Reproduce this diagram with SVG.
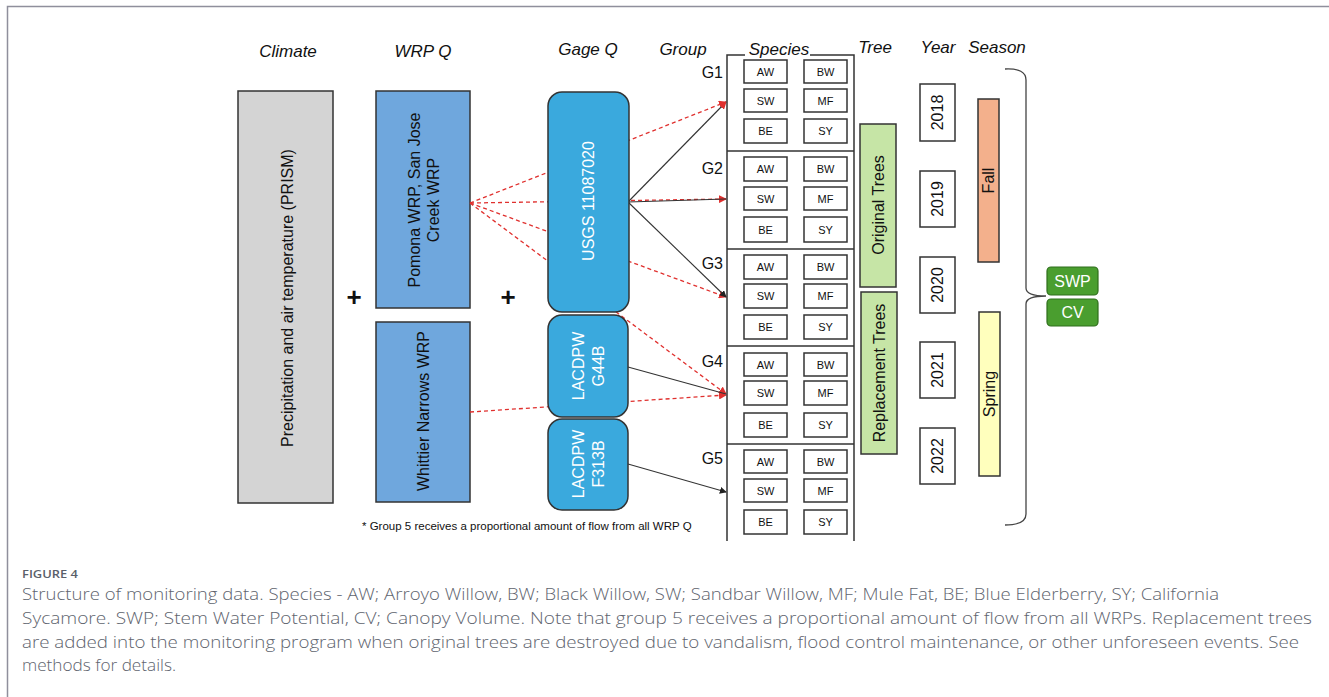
<svg xmlns="http://www.w3.org/2000/svg" width="1329" height="697" viewBox="0 0 1329 697">
<style>
.hdr{font-family:"Liberation Sans",Arial,sans-serif;font-size:17px;font-style:italic;fill:#111;text-anchor:middle}
.t{font-family:"Liberation Sans",Arial,sans-serif;font-size:16px;fill:#111;text-anchor:middle;dominant-baseline:central}
.tw{font-family:"Liberation Sans",Arial,sans-serif;font-size:16px;fill:#fff;text-anchor:middle;dominant-baseline:central}
.sp{font-family:"Liberation Sans",Arial,sans-serif;font-size:11px;fill:#111;text-anchor:middle;dominant-baseline:central}
.box{stroke:#333;stroke-width:1.5}
.spb{fill:#fff;stroke:#333;stroke-width:1.5}
.red{fill:none;stroke:#e0302e;stroke-width:1.3;stroke-dasharray:4 3}
.blk{fill:none;stroke:#333;stroke-width:1.1}
.frame{fill:none;stroke:#333;stroke-width:1.5}
.cap{font-family:"Open Sans","Liberation Sans",sans-serif;font-size:15.5px;font-weight:300;fill:#60646e}
</style>
<defs>
<marker id="ar" viewBox="0 0 8 8" refX="7" refY="4" markerWidth="8" markerHeight="8" markerUnits="userSpaceOnUse" orient="auto"><path d="M0,0 L8,4 L0,8 z" fill="#e0302e"/></marker>
<marker id="ab" viewBox="0 0 8 8" refX="7" refY="4" markerWidth="7" markerHeight="7" markerUnits="userSpaceOnUse" orient="auto"><path d="M0,0 L8,4 L0,8 z" fill="#222"/></marker>
</defs>
<rect width="1329" height="697" fill="#fff"/>
<path d="M7.5,697 V6.5 H1329" fill="none" stroke="#8f8f9c" stroke-width="1.5"/>

<g id="headers">
<text class="hdr" x="288" y="57">Climate</text>
<text class="hdr" x="423" y="57">WRP Q</text>
<text class="hdr" x="588" y="55">Gage Q</text>
<text class="hdr" x="683" y="55">Group</text>
<text class="hdr" x="779" y="55">Species</text>
<text class="hdr" x="875" y="53">Tree</text>
<text class="hdr" x="938" y="53">Year</text>
<text class="hdr" x="997" y="53">Season</text>
</g>

<g id="climate">
<rect class="box" x="238" y="91" width="95" height="412" fill="#d4d4d4"/>
<text class="t" transform="translate(287,298) rotate(-90)">Precipitation and air temperature (PRISM)</text>
</g>
<g id="plus1"><text x="354" y="306" font-family="Liberation Sans,Arial,sans-serif" font-size="26" font-weight="bold" text-anchor="middle" fill="#111">+</text></g>
<g id="plus2"><text x="508" y="306" font-family="Liberation Sans,Arial,sans-serif" font-size="26" font-weight="bold" text-anchor="middle" fill="#111">+</text></g>

<g id="wrp1">
<rect class="box" x="376" y="91" width="94" height="217" fill="#6fa7dd"/>
<text class="t" transform="translate(414,200) rotate(-90)">Pomona WRP, San Jose</text>
<text class="t" transform="translate(433,200) rotate(-90)">Creek WRP</text>
</g>
<g id="wrp2">
<rect class="box" x="376" y="322" width="94" height="180" fill="#6fa7dd"/>
<text class="t" transform="translate(423,411) rotate(-90)">Whittier Narrows WRP</text>
</g>

<g id="connectors">
<line class="red" x1="470" y1="203" x2="726" y2="102" marker-end="url(#ar)"/>
<line class="red" x1="470" y1="203" x2="726" y2="199" marker-end="url(#ar)"/>
<line class="red" x1="470" y1="203" x2="726" y2="297" marker-end="url(#ar)"/>
<line class="red" x1="470" y1="203" x2="726" y2="394" marker-end="url(#ar)"/>
<line class="red" x1="470" y1="412" x2="726" y2="395" marker-end="url(#ar)"/>
<line class="blk" x1="628" y1="202" x2="726" y2="102" marker-end="url(#ar)"/>
<line class="blk" x1="628" y1="202" x2="726" y2="199"/>
<line class="blk" x1="628" y1="202" x2="726" y2="297" marker-end="url(#ab)"/>
<line class="blk" x1="628" y1="367" x2="726" y2="394"/>
<line class="blk" x1="628" y1="464" x2="726" y2="492" marker-end="url(#ab)"/>
</g>

<g id="usgs">
<rect class="box" x="548" y="92" width="81" height="220" rx="14" fill="#3aa9dd"/>
<text class="tw" transform="translate(588,201) rotate(-90)">USGS 11087020</text>
</g>
<g id="g44b">
<rect class="box" x="548" y="315" width="80" height="102" rx="14" fill="#3aa9dd"/>
<text class="tw" transform="translate(578,366) rotate(-90)">LACDPW</text>
<text class="tw" transform="translate(598,366) rotate(-90)">G44B</text>
</g>
<g id="f313b">
<rect class="box" x="548" y="419" width="80" height="91" rx="14" fill="#3aa9dd"/>
<text class="tw" transform="translate(578,464) rotate(-90)">LACDPW</text>
<text class="tw" transform="translate(598,464) rotate(-90)">F313B</text>
</g>

<g id="footnote"><text x="362" y="530" font-family="Liberation Sans,Arial,sans-serif" font-size="11.5" fill="#111">* Group 5 receives a proportional amount of flow from all WRP Q</text></g>

<g id="species-frame">
<path class="frame" d="M727,541 V55 H745 M810,55 H854 V541"/>
<line class="frame" x1="727" y1="151" x2="854" y2="151"/>
<line class="frame" x1="727" y1="249" x2="854" y2="249"/>
<line class="frame" x1="727" y1="346" x2="854" y2="346"/>
<line class="frame" x1="727" y1="444" x2="854" y2="444"/>
</g>

<g id="groups" font-family="Liberation Sans,Arial,sans-serif" font-size="16" fill="#111" text-anchor="end">
<text x="723" y="78">G1</text>
<text x="723" y="174">G2</text>
<text x="723" y="269">G3</text>
<text x="723" y="367">G4</text>
<text x="723" y="464">G5</text>
</g>

<g id="G1-species">
<rect class="spb" x="744" y="60" width="43" height="23"/><text class="sp" x="765.5" y="72">AW</text>
<rect class="spb" x="804" y="60" width="43" height="23"/><text class="sp" x="825.5" y="72">BW</text>
<rect class="spb" x="744" y="89" width="43" height="23"/><text class="sp" x="765.5" y="101">SW</text>
<rect class="spb" x="804" y="89" width="43" height="23"/><text class="sp" x="825.5" y="101">MF</text>
<rect class="spb" x="744" y="119" width="43" height="24"/><text class="sp" x="765.5" y="131">BE</text>
<rect class="spb" x="804" y="119" width="43" height="24"/><text class="sp" x="825.5" y="131">SY</text>
</g>
<g id="G2-species">
<rect class="spb" x="744" y="157" width="43" height="24"/><text class="sp" x="765.5" y="169">AW</text>
<rect class="spb" x="804" y="157" width="43" height="24"/><text class="sp" x="825.5" y="169">BW</text>
<rect class="spb" x="744" y="187" width="43" height="23"/><text class="sp" x="765.5" y="198.5">SW</text>
<rect class="spb" x="804" y="187" width="43" height="23"/><text class="sp" x="825.5" y="198.5">MF</text>
<rect class="spb" x="744" y="217" width="43" height="25"/><text class="sp" x="765.5" y="229.5">BE</text>
<rect class="spb" x="804" y="217" width="43" height="25"/><text class="sp" x="825.5" y="229.5">SY</text>
</g>
<g id="G3-species">
<rect class="spb" x="744" y="255" width="43" height="24"/><text class="sp" x="765.5" y="267">AW</text>
<rect class="spb" x="804" y="255" width="43" height="24"/><text class="sp" x="825.5" y="267">BW</text>
<rect class="spb" x="744" y="284" width="43" height="24"/><text class="sp" x="765.5" y="296">SW</text>
<rect class="spb" x="804" y="284" width="43" height="24"/><text class="sp" x="825.5" y="296">MF</text>
<rect class="spb" x="744" y="315" width="43" height="24"/><text class="sp" x="765.5" y="327">BE</text>
<rect class="spb" x="804" y="315" width="43" height="24"/><text class="sp" x="825.5" y="327">SY</text>
</g>
<g id="G4-species">
<rect class="spb" x="744" y="353" width="43" height="23"/><text class="sp" x="765.5" y="364.5">AW</text>
<rect class="spb" x="804" y="353" width="43" height="23"/><text class="sp" x="825.5" y="364.5">BW</text>
<rect class="spb" x="744" y="381" width="43" height="24"/><text class="sp" x="765.5" y="393">SW</text>
<rect class="spb" x="804" y="381" width="43" height="24"/><text class="sp" x="825.5" y="393">MF</text>
<rect class="spb" x="744" y="413" width="43" height="24"/><text class="sp" x="765.5" y="425">BE</text>
<rect class="spb" x="804" y="413" width="43" height="24"/><text class="sp" x="825.5" y="425">SY</text>
</g>
<g id="G5-species">
<rect class="spb" x="744" y="450" width="43" height="23"/><text class="sp" x="765.5" y="461.5">AW</text>
<rect class="spb" x="804" y="450" width="43" height="23"/><text class="sp" x="825.5" y="461.5">BW</text>
<rect class="spb" x="744" y="479" width="43" height="23"/><text class="sp" x="765.5" y="490.5">SW</text>
<rect class="spb" x="804" y="479" width="43" height="23"/><text class="sp" x="825.5" y="490.5">MF</text>
<rect class="spb" x="744" y="510" width="43" height="24"/><text class="sp" x="765.5" y="522">BE</text>
<rect class="spb" x="804" y="510" width="43" height="24"/><text class="sp" x="825.5" y="522">SY</text>
</g>

<g id="original-trees">
<rect class="box" x="860" y="124" width="36" height="163" fill="#c6e5a6"/>
<text class="t" transform="translate(878,205) rotate(-90)">Original Trees</text>
</g>
<g id="replacement-trees">
<rect class="box" x="861" y="292" width="36" height="162" fill="#c6e5a6"/>
<text class="t" transform="translate(879,373) rotate(-90)">Replacement Trees</text>
</g>

<g id="y2018"><rect class="spb" x="920" y="84" width="35" height="57"/><text class="t" transform="translate(937.5,112.5) rotate(-90)">2018</text></g>
<g id="y2019"><rect class="spb" x="920" y="171" width="35" height="56"/><text class="t" transform="translate(937.5,199) rotate(-90)">2019</text></g>
<g id="y2020"><rect class="spb" x="920" y="257" width="35" height="56"/><text class="t" transform="translate(937.5,285) rotate(-90)">2020</text></g>
<g id="y2021"><rect class="spb" x="920" y="342" width="35" height="56"/><text class="t" transform="translate(937.5,370) rotate(-90)">2021</text></g>
<g id="y2022"><rect class="spb" x="920" y="428" width="35" height="56"/><text class="t" transform="translate(937.5,456) rotate(-90)">2022</text></g>

<g id="fall"><rect class="box" x="978" y="99" width="21" height="163" fill="#f3b08c"/><text class="t" transform="translate(988.5,180.5) rotate(-90)">Fall</text></g>
<g id="spring"><rect class="box" x="979" y="312" width="21" height="164" fill="#ffffbd"/><text class="t" transform="translate(989.5,394) rotate(-90)">Spring</text></g>

<g id="brace"><path d="M1005,69 Q1026,68 1026,80 L1026,288 Q1026,296 1046,296 Q1026,296 1026,304 L1026,514 Q1026,525 1005,525" fill="none" stroke="#444" stroke-width="1.3"/></g>

<g id="swp"><rect x="1047" y="267" width="51" height="28" rx="4" fill="#4a9e2f" stroke="#2f6e1c" stroke-width="1.2"/><text class="tw" x="1072.5" y="281">SWP</text></g>
<g id="cv"><rect x="1047" y="299" width="51" height="27" rx="4" fill="#4a9e2f" stroke="#2f6e1c" stroke-width="1.2"/><text class="tw" x="1072.5" y="312.5">CV</text></g>

<g id="caption">
<text x="22" y="578" font-family="Open Sans,Liberation Sans,sans-serif" font-size="11" font-weight="600" fill="#5a5f6a" textLength="56" lengthAdjust="spacingAndGlyphs">FIGURE 4</text>
<text class="cap" x="22" y="600" textLength="1197" lengthAdjust="spacingAndGlyphs">Structure of monitoring data. Species - AW; Arroyo Willow, BW; Black Willow, SW; Sandbar Willow, MF; Mule Fat, BE; Blue Elderberry, SY; California</text>
<text class="cap" x="22" y="624" textLength="1290" lengthAdjust="spacingAndGlyphs">Sycamore. SWP; Stem Water Potential, CV; Canopy Volume. Note that group 5 receives a proportional amount of flow from all WRPs. Replacement trees</text>
<text class="cap" x="22" y="648" textLength="1277" lengthAdjust="spacingAndGlyphs">are added into the monitoring program when original trees are destroyed due to vandalism, flood control maintenance, or other unforeseen events. See</text>
<text class="cap" x="22" y="671" textLength="154" lengthAdjust="spacingAndGlyphs">methods for details.</text>
</g>
</svg>
